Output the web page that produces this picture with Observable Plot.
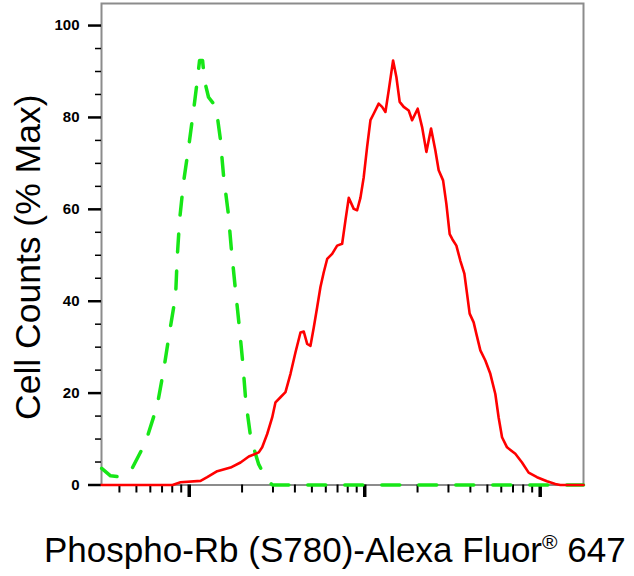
<!DOCTYPE html>
<html>
<head>
<meta charset="utf-8">
<script src="https://cdn.jsdelivr.net/npm/d3@7"></script>
<script src="https://cdn.jsdelivr.net/npm/@observablehq/plot@0.6"></script>
<style>
  html, body { margin: 0; padding: 0; background: #fff; }
</style>
</head>
<body>
<div id="chart"></div>
<script>
// Axis definitions
const xDomain = [31.62, 17650];
const yDomain = [0, 104.8];
const yMajorTicks = [0, 20, 40, 60, 80, 100];
const yMinorTicks = [5, 10, 15, 25, 30, 35, 45, 50, 55, 65, 70, 75, 85, 90, 95];
const xMajorTicks = [100, 1000, 10000];
const xMinorTicks = [40, 50, 60, 70, 80, 90, 200, 300, 400, 500, 600, 700, 800, 900,
                     2000, 3000, 4000, 5000, 6000, 7000, 8000, 9000];
const yLabel = "Cell Counts (% Max)";
const xLabelMain = "Phospho-Rb (S780)-Alexa Fluor";
const xLabelSup = "®";
const xLabelEnd = " 647";

// Isotype control (green dashed)
const isoX = [31.7, 35.6, 39.5, 43.3, 47.5, 56.4, 65.7, 71.7, 77.2, 83.6, 85.4, 88.1, 92.8, 99.5,
  106.2, 111.5, 114.5, 119.1, 122.2, 128.8, 137.5, 143.0, 150.1, 156.8, 166.8, 174.1, 182.8,
  192.6, 202.0, 210.1, 224.3, 248.1, 264.9, 282.8, 298.1, 17650];
const isoY = [3.6, 2.0, 1.8, 2.2, 3.8, 9.3, 17.3, 25.3, 33.2, 41.2, 49.5, 57.7, 65.9, 73.9,
  82.0, 88.5, 92.4, 92.4, 88.0, 84.4, 83.0, 81.5, 75.6, 67.4, 59.2, 51.0, 43.0,
  34.7, 26.5, 18.1, 10.2, 4.6, 2.5, 0.8, 0, 0];

// Phospho-Rb (S780) stained (red)
const rbX = [31.7, 80.3, 89.2, 116.0, 126.6, 144.4, 171.9, 196.0, 218.5, 249.1, 260.4, 278.1,
  297.0, 310.1, 331.1, 353.5, 377.6, 403.2, 430.4, 449.4, 469.9, 490.7, 512.4, 535.7, 559.4,
  584.2, 610.9, 652.2, 696.4, 743.6, 776.5, 810.9, 865.9, 904.9, 945.1, 987.0, 1032, 1078,
  1125, 1201, 1256, 1312, 1370, 1451, 1515, 1582, 1668, 1781, 1862, 2004, 2123, 2246, 2388,
  2527, 2639, 2796, 2919, 3049, 3157, 3329, 3508, 3697, 3830, 3963, 4176, 4327, 4560, 4868,
  5197, 5550, 5796, 6061, 6471, 7215, 7877, 8592, 9590, 10930, 12190, 13020, 17650];
const rbY = [0, 0, 0.6, 0.9, 1.7, 3.0, 3.8, 4.9, 6.2, 7.1, 8.2, 11.1,
  14.7, 18.0, 19.1, 20.2, 24.2, 28.9, 33.2, 33.4, 30.7, 30.3, 34.3, 38.7, 43.1,
  46.3, 49.2, 50.3, 52.1, 52.5, 57.6, 62.5, 60.1, 59.8, 62.5, 67.0, 73.6, 79.4,
  80.8, 83.0, 82.3, 81.2, 85.9, 92.4, 88.8, 83.4, 82.3, 81.5, 79.4, 81.9, 77.9, 72.5, 77.6,
  72.8, 68.5, 66.3, 61.2, 54.6, 53.5, 52.1, 48.8, 46.0, 41.6, 37.3, 35.4, 32.9, 29.3, 27.1,
  24.2, 19.8, 14.7, 10.4, 8.2, 6.8, 4.9, 2.7, 1.7, 0.8, 0.2, 0, 0];

const iso = isoX.map((x, i) => ({x, y: isoY[i]}));
const rb = rbX.map((x, i) => ({x, y: rbY[i]}));

const chart = Plot.plot({
  width: 634,
  height: 576,
  marginLeft: 101,
  marginRight: 51,
  marginTop: 3,
  marginBottom: 91.5,
  x: {type: "log", domain: xDomain, axis: null},
  y: {domain: yDomain, axis: null},
  style: {fontFamily: "'Liberation Sans', Arial, sans-serif", background: "white", color: "black"},
  marks: [
    Plot.frame({stroke: "#8c8c8c", strokeWidth: 2}),
    Plot.axisY(yMinorTicks, {tickSize: 6, strokeWidth: 1.5, stroke: "black", fill: "none", label: null}),
    Plot.axisY(yMajorTicks, {tickSize: 13, tickPadding: 9, strokeWidth: 2.5, stroke: "black",
      fill: "black", fontSize: 15, fontWeight: "bold", label: null}),
    Plot.axisX(xMinorTicks, {tickSize: 8, strokeWidth: 2, stroke: "black", fill: "none", label: null}),
    Plot.axisX(xMajorTicks, {tickSize: 12.5, strokeWidth: 3.5, stroke: "black", fill: "none", label: null}),
    Plot.line(iso, {x: "x", y: "y", stroke: "#17e617", strokeWidth: 3.5, strokeDasharray: "18,19"}),
    Plot.line(rb, {x: "x", y: "y", stroke: "#ff0000", strokeWidth: 2.6}),
    Plot.text([yLabel], {text: d => d, frameAnchor: "left", textAnchor: "middle", dx: -73, dy: 13,
      rotate: -90, fontSize: 35.5, fill: "black"})
  ]
});

document.getElementById("chart").appendChild(chart);

const svg = d3.select(chart);
const t = svg.append("text")
  .attr("x", 44)
  .attr("y", 562)
  .attr("text-anchor", "start")
  .attr("font-size", 35)
  .attr("fill", "black")
  .attr("font-family", "'Liberation Sans', Arial, sans-serif");
t.append("tspan").text(xLabelMain);
t.append("tspan").attr("font-size", 21).attr("dy", -13).text(xLabelSup);
t.append("tspan").attr("dy", 13).text(xLabelEnd);
</script>
</body>
</html>
